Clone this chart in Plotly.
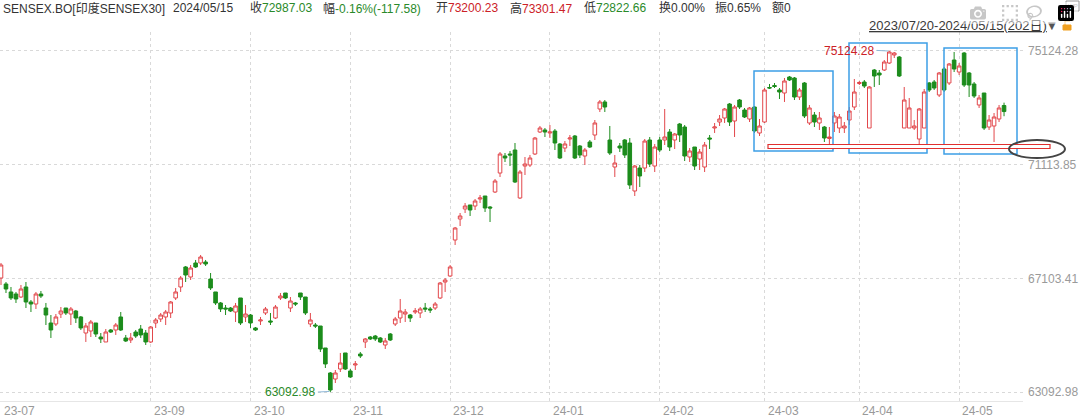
import plotly.graph_objects as go

# ---------------- data ----------------
open_ = [
    67115, 66904, 66622, 66551, 66445, 66798, 66269, 66198, 66551, 66057,
    65528, 65493, 65845, 66057, 65845, 65951, 65740, 65175, 65246, 65528,
    65034, 64858, 65281, 65281, 65740, 64999, 64928, 65210, 65316, 65175,
    64858, 65528, 65669, 65740, 65881, 66410, 66798, 67504, 67151, 67645,
    67645, 67680, 67080, 66622, 66234, 66057, 66057, 65916, 66410, 65740,
    65810, 65352, 65599, 65881, 65599, 65704, 66410, 66586, 66057, 66234,
    66586, 66445, 65493, 65457, 65422, 64646, 63764, 63552, 63905, 64470,
    63835, 64046, 64434, 64858, 65034, 65069, 64999, 64752, 65140, 65493,
    65704, 65845, 65810, 65916, 65881, 66057, 66022, 66057, 66410, 66974,
    67186, 68456, 69197, 69550, 69691, 69655, 69902, 70008, 69620, 70149,
    70819, 71419, 71490, 71631, 69938, 71066, 71102, 71490, 72266, 72337,
    72231, 72301, 71843, 71701, 72019, 72125, 71772, 71419, 71913, 72160,
    73078, 73325, 71984, 71031, 71772, 71984, 71878, 70185, 70996, 70996,
    71984, 71066, 71984, 71984, 72266, 71984, 72548, 72442, 71384, 71737,
    71313, 71031, 72054, 72407, 72619, 72760, 73254, 72654, 73395, 73042,
    72725, 73148, 72231, 72619, 73836, 73906, 73748, 73642, 74206, 74171,
    73501, 73995, 72584, 72866, 72584, 72442, 72037, 72584, 72407, 72407,
    72689, 73148, 73977, 74030, 72407, 74453, 74348, 74453, 74700, 74983,
    74912, 72407, 72407, 72407, 72019, 72407, 73995, 74030, 73571, 74489,
    73995, 74806, 74383, 75053, 74348, 73960, 73219, 73642, 72442, 72478,
    72725, 73200.23,
]
high = [
    67645, 66974, 66798, 66622, 66869, 66974, 66339, 66622, 66657, 66234,
    65810, 65845, 66092, 66057, 66092, 65987, 65775, 65528, 65634, 65528,
    65175, 65316, 65316, 65528, 65916, 65105, 65175, 65281, 65457, 65281,
    65422, 65704, 65881, 65987, 66304, 66763, 67186, 67539, 67574, 67751,
    67927, 67751, 67292, 66622, 66269, 66163, 66092, 66234, 66410, 66163,
    65845, 65387, 65740, 66092, 65881, 66163, 66586, 66586, 66445, 66269,
    66586, 66445, 65881, 65528, 65422, 64646, 63799, 63870, 64470, 64470,
    63905, 64187, 64505, 64999, 65069, 65105, 65034, 64999, 65175, 65740,
    66375, 66022, 65845, 66057, 66092, 66234, 66092, 66269, 66974, 67115,
    67574, 68915, 69408, 69761, 69691, 69902, 70043, 70008, 69655, 70608,
    71560, 71525, 71596, 71878, 70925, 71384, 71455, 72090, 72478, 72407,
    72513, 72372, 71878, 71948, 72160, 72160, 71807, 71701, 71984, 72689,
    73395, 73395, 72478, 71455, 71878, 72019, 72054, 71102, 71102, 72019,
    72090, 71843, 72090, 73078, 72372, 72231, 72584, 72513, 71701, 71737,
    71666, 71913, 72160, 72584, 72866, 73113, 73289, 73219, 73430, 73113,
    73148, 73183, 72725, 73818, 73960, 73995, 73818, 74171, 74242, 74206,
    73818, 74030, 73219, 72972, 72972, 72478, 72442, 72972, 72901, 72619,
    73148, 74136, 74065, 74101, 73889, 74489, 74453, 74806, 75124.28, 75088,
    74947, 73854, 73466, 72689, 73113, 73783, 74030, 74101, 74383, 74559,
    74700, 75088, 74700, 75088, 74383, 74030, 73571, 73642, 72866, 72936,
    73219, 73301.47,
]
low = [
    66869, 66586, 66339, 66234, 66410, 66057, 65916, 66022, 66410, 65457,
    64999, 65422, 65704, 65810, 65457, 65528, 65281, 64858, 65034, 65034,
    64822, 64858, 65175, 65105, 65246, 64858, 64822, 64999, 64999, 64752,
    64822, 65352, 65563, 65457, 65704, 66339, 66622, 66974, 67045, 67468,
    67574, 67539, 66692, 66163, 65916, 65810, 65916, 65563, 65457, 65563,
    65352, 65246, 65457, 65810, 65457, 65669, 66339, 66375, 65916, 66128,
    66339, 65810, 65387, 65352, 64505, 63940, 63092.98, 63411, 63799, 63870,
    63588, 63870, 64293, 64646, 64928, 64893, 64822, 64611, 64893, 65422,
    65528, 65563, 65563, 65845, 65704, 65916, 65881, 65987, 66375, 66622,
    67151, 68280, 68950, 69408, 69303, 69514, 69761, 69444, 69091, 70114,
    70678, 71208, 71066, 70467, 69902, 70749, 71031, 71455, 72231, 72090,
    72054, 71631, 71313, 71560, 71772, 71313, 71349, 71102, 71701, 71984,
    72972, 72972, 71455, 70678, 71560, 71349, 70255, 70008, 70326, 70855,
    71031, 70855, 71560, 71807, 71596, 71666, 71913, 71243, 71208, 70925,
    70925, 70855, 71666, 72231, 72478, 72584, 72478, 72090, 73078, 72760,
    72619, 72231, 72125, 72584, 73783, 73818, 73430, 73325, 74065, 73395,
    73395, 72760, 72513, 72442, 72337, 71913, 71737, 72266, 72231, 72231,
    72513, 73042, 73924, 73818, 72407, 73854, 73924, 74418, 74665, 74877,
    74206, 72407, 72407, 72337, 71807, 72407, 73677, 73748, 73501, 73677,
    73924, 74383, 74277, 73854, 73501, 73466, 73113, 72337, 72337, 71913,
    72619, 72822.66,
]
close = [
    67574, 66727, 66410, 66375, 66727, 66269, 66198, 66551, 66480, 65810,
    65281, 65740, 65951, 65881, 66022, 65704, 65352, 65422, 65563, 65140,
    64964, 65210, 65210, 65457, 65281, 64893, 64999, 65069, 65105, 64858,
    65387, 65634, 65810, 65916, 66269, 66622, 67115, 67221, 67468, 67504,
    67856, 67609, 66763, 66234, 66022, 66022, 65951, 66128, 65528, 65845,
    65528, 65281, 65634, 66022, 65563, 66092, 66480, 66410, 66304, 66198,
    66445, 65881, 65634, 65422, 64611, 64082, 63164, 63764, 64117, 63905,
    63623, 64082, 64364, 64964, 64964, 64964, 64858, 64893, 64928, 65669,
    65951, 65916, 65704, 65951, 66022, 66022, 65987, 66198, 66939, 67045,
    67504, 68879, 69303, 69655, 69514, 69832, 69938, 69585, 69585, 70537,
    71490, 71349, 71455, 70502, 70855, 71137, 71349, 72054, 72407, 72266,
    72266, 71878, 71349, 71843, 72054, 71349, 71455, 71631, 71737, 72584,
    73325, 73148, 71525, 71172, 71701, 71455, 70396, 71066, 70714, 71948,
    71137, 71737, 71631, 72090, 71737, 72195, 72160, 71419, 71596, 71066,
    71560, 71807, 72019, 72442, 72725, 73078, 72619, 73148, 73148, 72795,
    73113, 72301, 72478, 73748, 73818, 73871, 73677, 74065, 74101, 73501,
    73748, 72831, 73113, 72619, 72760, 72054, 72090, 72831, 72795, 72478,
    73007, 73677, 74012, 73889, 73854, 74242, 74277, 74736, 75088, 75053,
    74242, 73395, 73113, 72478, 73078, 73677, 73748, 73818, 74348, 73748,
    74665, 74489, 74595, 73924, 73924, 73536, 73466, 72407, 72689, 72795,
    73113, 72987.03,
]

month_idx = [0, 30, 50, 70, 90, 110, 132, 153, 172, 192]
month_labels = ["23-07", "23-09", "23-10", "23-11", "23-12",
                "24-01", "24-02", "24-03", "24-04", "24-05"]
y_tickvals = [63092.98, 67103.41, 71113.85, 75124.28]
y_ticktext = ["63092.98", "67103.41", "71113.85", "75124.28"]

max_label, max_idx = "75124.28", 178
min_label, min_idx = "63092.98", 66

header_items = [
    ("SENSEX.BO[印度SENSEX30]", None, None),
    ("2024/05/15", None, None),
    ("收", "72987.03", "green"),
    ("幅", "-0.16%(-117.58)", "green"),
    ("开", "73200.23", "red"),
    ("高", "73301.47", "red"),
    ("低", "72822.66", "green"),
    ("换", "0.00%", None),
    ("振", "0.65%", None),
    ("额", "0", None),
]
header_x = [1, 171, 248, 321, 434, 508, 582, 657, 713, 770]
range_text = "2023/07/20-2024/05/15(202日)"

# ---------------- layout geometry ----------------
W, H = 1080, 420
ML, MR, MT, MB = 0, 57, 32, 19
PW, PH = W - ML - MR, H - MT - MB


def pxx(xp):
    return (xp - ML) / PW


def pxy(yp):
    return (H - MB - yp) / PH


RED = "#e2474b"
GREEN = "#1c8c1c"
TXT_RED = "#cc2127"
TXT_GREEN = "#2a8a2a"
FONT = "Liberation Sans, Arial, Noto Sans CJK SC, sans-serif"

x = list(range(len(close)))

fig = go.Figure(go.Candlestick(
    x=x, open=open_, high=high, low=low, close=close,
    increasing=dict(line=dict(color=RED, width=1), fillcolor="white"),
    decreasing=dict(line=dict(color=GREEN, width=1), fillcolor=GREEN),
    whiskerwidth=0, hoverinfo="skip", showlegend=False,
))

annotations = []
shapes = []

# header
for (lab, val, col), hx in zip(header_items, header_x):
    if val is None:
        txt = lab
    else:
        c = {"green": TXT_GREEN, "red": TXT_RED, None: "#333333"}[col]
        txt = f'{lab}<span style="color:{c}">{val}</span>'
    annotations.append(dict(
        text=txt, xref="paper", yref="paper", x=pxx(hx), y=pxy(8),
        xanchor="left", yanchor="middle", showarrow=False,
        font=dict(size=12, color="#333333", family=FONT)))

annotations.append(dict(
    text=f"<u>{range_text}</u>", xref="paper", yref="paper",
    x=pxx(867), y=pxy(25), xanchor="left", yanchor="middle",
    showarrow=False, font=dict(size=13, color="#3a3a3a", family=FONT)))
annotations.append(dict(
    text="▼", xref="paper", yref="paper", x=pxx(1052), y=pxy(25),
    xanchor="center", yanchor="middle", showarrow=False,
    font=dict(size=10, color="#555555", family="DejaVu Sans")))
annotations.append(dict(
    text="WP", xref="paper", yref="paper", x=pxx(1073), y=pxy(6),
    xanchor="center", yanchor="middle", showarrow=False,
    font=dict(size=6, color="#8a8a8a", family=FONT)))

# month labels
for mi, ml in zip(month_idx, month_labels):
    annotations.append(dict(
        text=ml, xref="x", yref="paper", x=mi, y=pxy(411),
        xanchor="left", yanchor="middle", xshift=1, showarrow=False,
        font=dict(size=12, color="#999999", family=FONT)))

# max / min labels
annotations.append(dict(
    text=max_label, xref="x", yref="y", x=max_idx - 2.6, y=high[max_idx],
    xanchor="right", yanchor="middle", showarrow=False,
    font=dict(size=12, color=TXT_RED, family=FONT)))
shapes.append(dict(type="line", xref="x", yref="y",
                   x0=max_idx - 2.5, x1=max_idx - 0.2,
                   y0=high[max_idx] + 20, y1=high[max_idx],
                   line=dict(color="#8fb8d8", width=1)))
annotations.append(dict(
    text=min_label, xref="x", yref="y", x=min_idx - 2.6, y=low[min_idx],
    xanchor="right", yanchor="middle", showarrow=False,
    font=dict(size=12, color=TXT_GREEN, family=FONT)))
shapes.append(dict(type="line", xref="x", yref="y",
                   x0=min_idx - 2.5, x1=min_idx - 0.2,
                   y0=low[min_idx], y1=low[min_idx] + 20,
                   line=dict(color="#8fb8d8", width=1)))

# blue boxes
for (x0, x1, y0, y1) in [(754, 833, 71, 151), (849, 927, 43, 153), (944, 1017, 48, 154)]:
    shapes.append(dict(type="rect", xref="paper", yref="paper",
                       x0=pxx(x0), x1=pxx(x1), y0=pxy(y1), y1=pxy(y0),
                       line=dict(color="#3d9fe6", width=1.5),
                       fillcolor="rgba(0,0,0,0)"))
# red support bar
shapes.append(dict(type="rect", xref="paper", yref="paper",
                   x0=pxx(768), x1=pxx(1050), y0=pxy(148.5), y1=pxy(144.5),
                   line=dict(color="#e0302f", width=1.2), fillcolor="white"))
# ellipse
shapes.append(dict(type="circle", xref="paper", yref="paper",
                   x0=pxx(1009), x1=pxx(1065), y0=pxy(158), y1=pxy(140),
                   line=dict(color="#444444", width=2)))
# lock icon
shapes.append(dict(type="rect", xref="paper", yref="paper",
                   x0=pxx(1063), x1=pxx(1071), y0=pxy(30), y1=pxy(25),
                   line=dict(color="#f0a020", width=1), fillcolor="#f0a020"))
shapes.append(dict(type="path", xref="paper", yref="paper",
                   path=f"M {pxx(1065)},{pxy(25)} L {pxx(1065)},{pxy(21)} "
                        f"L {pxx(1070)},{pxy(21)}",
                   line=dict(color="#f0a020", width=1)))
# WP icon
shapes.append(dict(type="rect", xref="paper", yref="paper",
                   x0=pxx(1066), x1=pxx(1079), y0=pxy(11), y1=pxy(1),
                   line=dict(color="#9a9a9a", width=1)))

fig.update_layout(
    width=W, height=H,
    margin=dict(l=ML, r=MR, t=MT, b=MB, pad=0),
    paper_bgcolor="white", plot_bgcolor="white",
    boxgap=0.2, boxgroupgap=0.1,
    font=dict(family=FONT, size=12, color="#333333"),
    annotations=annotations, shapes=shapes,
    xaxis=dict(
        range=[-0.2, 204.8], rangeslider=dict(visible=False),
        tickmode="array", tickvals=month_idx[1:], showticklabels=False,
        showgrid=True, gridcolor="#d9d9d9", griddash="dot", gridwidth=1,
        zeroline=False, showline=True, linecolor="#e6e6e6", ticks="",
        fixedrange=True,
    ),
    yaxis=dict(
        range=[62776, 75794], side="right",
        tickmode="array", tickvals=y_tickvals, ticktext=y_ticktext,
        showgrid=True, gridcolor="#d9d9d9", griddash="dot", gridwidth=1,
        zeroline=False, showline=False, ticks="", ticklabelstandoff=4,
        tickfont=dict(size=12, color="#9a9a9a", family=FONT),
        automargin=False, fixedrange=True,
    ),
    hovermode=False,
)

fig.write_html(
    "out.html",
    post_script="document.body.style.margin='0';document.body.style.overflow='hidden';",
)
